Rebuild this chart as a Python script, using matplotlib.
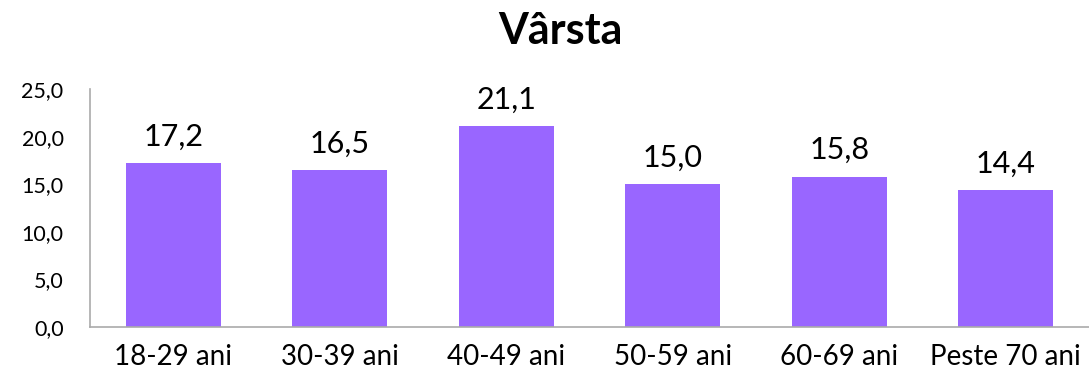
import matplotlib
matplotlib.use('Agg')
import matplotlib.pyplot as plt

# Distribuția pe grupe de vârstă (%)
categories = ['18-29 ani', '30-39 ani', '40-49 ani', '50-59 ani', '60-69 ani', 'Peste 70 ani']
values = [17.2, 16.5, 21.1, 15.0, 15.8, 14.4]
y_ticks = [0, 5, 10, 15, 20, 25]

plt.rcParams['font.family'] = ['Lato', 'DejaVu Sans']

fig = plt.figure(figsize=(10.89, 3.82), dpi=100)
ax = fig.add_axes([0.0826, 0.144, 0.9174, 0.623])

x = range(len(categories))
bars = ax.bar(x, values, width=0.57, color='#9966FF')

for rect, v in zip(bars, values):
    ax.text(rect.get_x() + rect.get_width() / 2, v + 1.3, f'{v:.1f}'.replace('.', ','),
            ha='center', va='bottom', fontsize=22)

ax.set_xlim(-0.5, len(categories) - 0.5)
ax.set_ylim(0, 25)
ax.set_yticks(y_ticks)
ax.set_yticklabels([f'{t:.1f}'.replace('.', ',') for t in y_ticks], fontsize=15.5)
ax.set_xticks(list(x))
ax.set_xticklabels(categories, fontsize=20)
ax.tick_params(axis='both', length=0)
ax.tick_params(axis='x', pad=12)
ax.tick_params(axis='y', pad=19)

for side in ['top', 'right']:
    ax.spines[side].set_visible(False)
for side in ['left', 'bottom']:
    ax.spines[side].set_color('#AAAAAA')
    ax.spines[side].set_linewidth(1.2)

fig.text(0.515, 0.92, 'Vârsta', ha='center', va='center', fontsize=31, fontweight='bold')

fig.savefig('out.png', dpi=100)
